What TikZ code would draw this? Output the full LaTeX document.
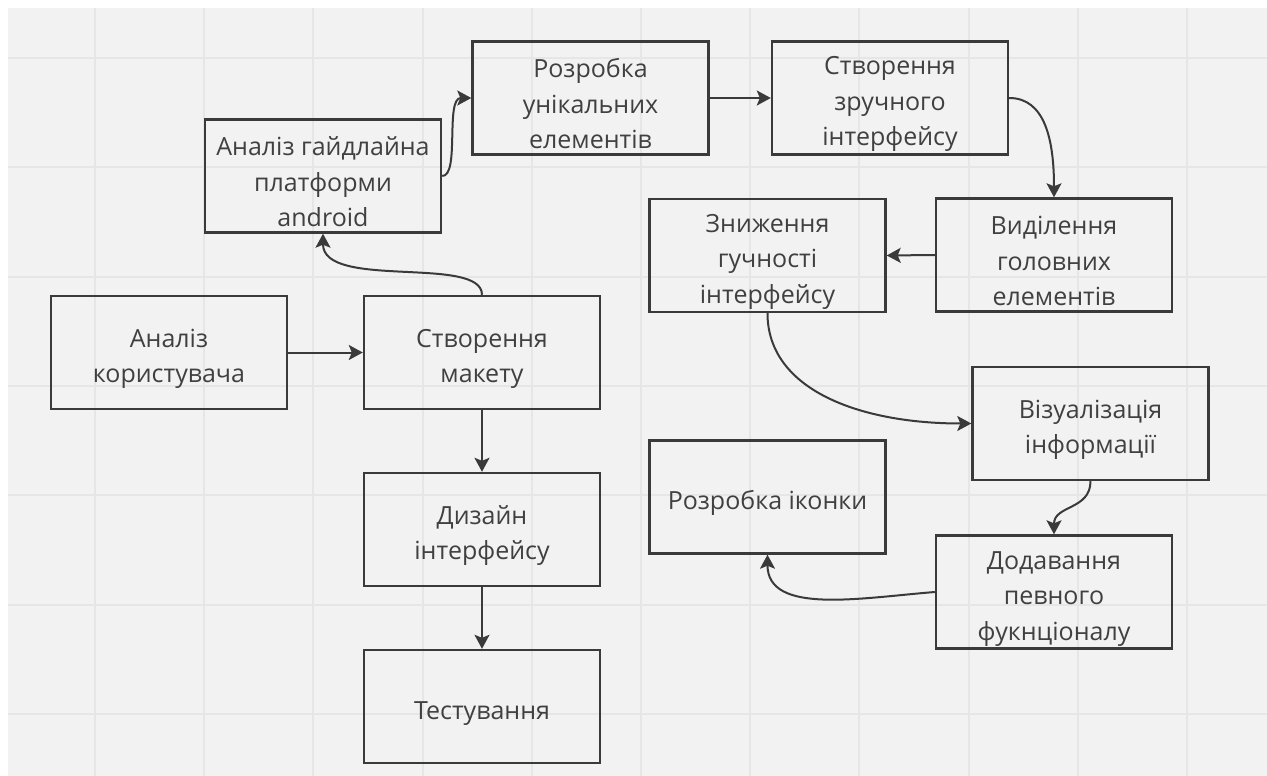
\documentclass[tikz,border=0pt]{standalone}
\usepackage{fontspec}
\setmainfont{Open Sans}
\usetikzlibrary{arrows.meta}
\definecolor{bggray}{HTML}{F2F2F2}
\definecolor{gridgray}{HTML}{E6E6E6}
\definecolor{boxline}{HTML}{3A3A3A}
\definecolor{txtgray}{HTML}{404040}
\newcommand\dn{\rule{0pt}{31pt}}
\tikzset{
  stepbox/.style={draw=boxline, line width=2.4pt, minimum width=236pt, minimum height=113pt,
    inner sep=0pt, align=center, text=txtgray, font=\fontsize{25}{35.5}\selectfont},
  conn/.style={draw=boxline, line width=2pt, -{Stealth[length=14pt,width=15pt,inset=3pt]}}
}
\begin{document}
\begin{tikzpicture}[x=1pt,y=-1pt]
\fill[white] (0,0) rectangle (1267,776);
\useasboundingbox (0,0) rectangle (1267,776);
\fill[bggray] (8,8) rectangle (1267,776);
\foreach \i in {0,...,10} {\draw[gridgray, line width=2pt] ({95+109.2*\i},8) -- ({95+109.2*\i},776);}
\foreach \j in {0,...,6} {\draw[gridgray, line width=2pt] (8,{58+109.3*\j}) -- (1267,{58+109.3*\j});}

\node[stepbox] (gaid) at (323,176) {\dn Аналіз гайдлайна\\платформи\\android};
\node[stepbox] (unik) at (590.5,98) {\dn Розробка\\унікальних\\елементів};
\node[stepbox] (zruch) at (890,98) {\dn Створення\\зручного\\інтерфейсу};
\node[stepbox] (vydil) at (1054,255) {\dn Виділення\\головних\\елементів};
\node[stepbox] (znyzh) at (767.5,255.5) {\dn Зниження\\гучності\\інтерфейсу};
\node[stepbox] (vizual) at (1090.5,423.5) {\dn Візуалізація\\інформації};
\node[stepbox] (ikon) at (767.5,497) {\dn Розробка іконки};
\node[stepbox] (dodav) at (1054,592) {\dn Додавання\\певного\\фукнціоналу};
\node[stepbox] (korys) at (169,352.5) {\dn Аналіз\\користувача};
\node[stepbox] (maket) at (482,352.5) {\dn Створення\\макету};
\node[stepbox] (dyzain) at (482,529.5) {\dn Дизайн\\інтерфейсу};
\node[stepbox] (test) at (482,706.5) {\dn Тестування};

\draw[conn] (korys.east) -- (maket.west);
\draw[conn] (maket.south) -- (dyzain.north);
\draw[conn] (dyzain.south) -- (test.north);
\draw[conn] (maket.north) .. controls (482,255) and (323,290) .. (gaid.south);
\draw[conn] (gaid.east) .. controls (460,176) and (445,98) .. (unik.west);
\draw[conn] (unik.east) -- (zruch.west);
\draw[conn] (zruch.east) .. controls (1045,98) and (1054,140) .. (vydil.north);
\draw[conn] (vydil.west) -- (znyzh.east);
\draw[conn] (znyzh.south) .. controls (767.5,390) and (860,423.5) .. (vizual.west);
\draw[conn] (vizual.south) .. controls (1090.5,510) and (1054,505) .. (dodav.north);
\draw[conn] (dodav.west) .. controls (860,598) and (767.5,615) .. (ikon.south);
\end{tikzpicture}
\end{document}
